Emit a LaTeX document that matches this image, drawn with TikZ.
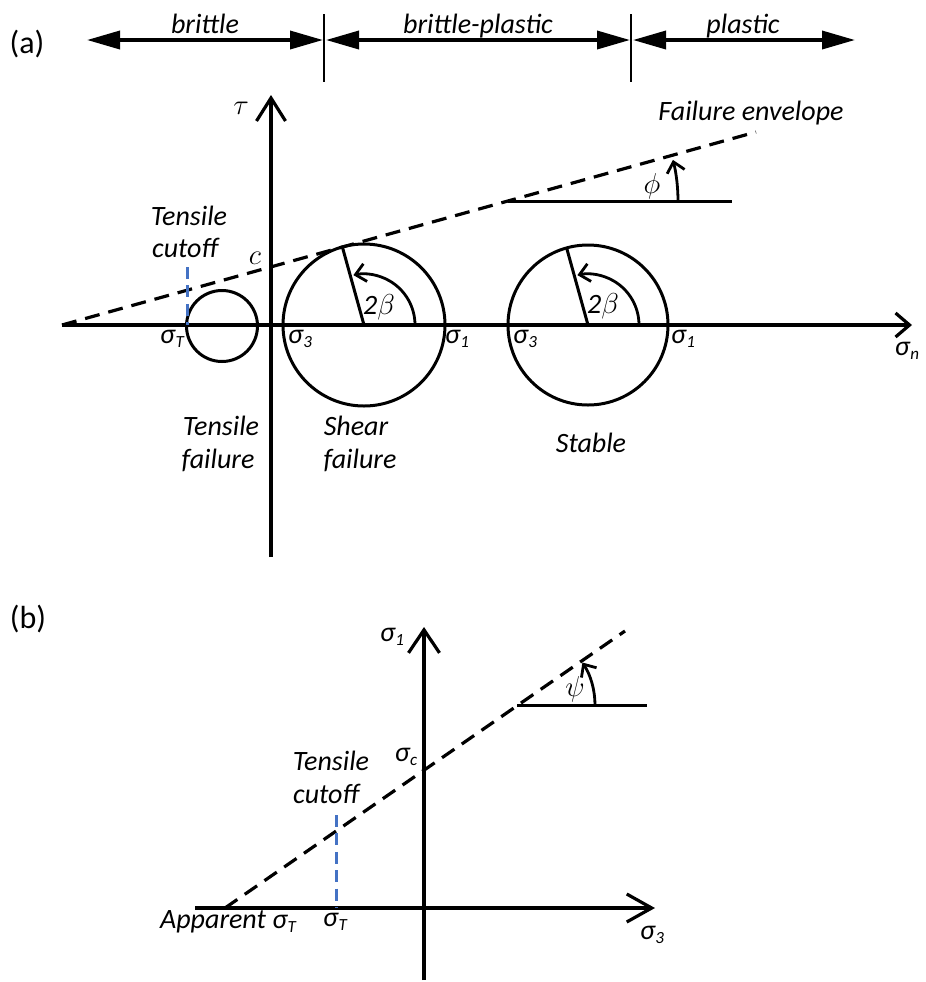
\documentclass[tikz,border=0pt]{standalone}
\usepackage{fontspec}
\setmainfont{Carlito}
\usetikzlibrary{arrows.meta,calc}
\definecolor{cutblue}{HTML}{4472C4}
\newcommand{\sgm}[1]{σ\kern0.2pt\raisebox{-0.12em}{\fontsize{8.5}{9}\selectfont #1}}
\begin{document}
\begin{tikzpicture}[x=0.5pt,y=-0.5pt,
  lbl/.style={font=\fontsize{14}{16}\selectfont\itshape, inner sep=0pt},
  ulbl/.style={font=\fontsize{16}{18}\selectfont, inner sep=0pt},
  ln/.style={line width=1.5pt},
  axisln/.style={line width=1.6pt},
  env/.style={line width=1.6pt, dash pattern=on 7.5pt off 4.5pt},
  cut/.style={line width=1.5pt, cutblue, dash pattern=on 6pt off 3.2pt},
  toparr/.style={line width=1.8pt, {Triangle[length=16.5pt,width=9pt]}-{Triangle[length=16.5pt,width=9pt]}},
  angarr/.style={line width=1.4pt, -{Straight Barb[length=5pt,width=9pt]}},
]
\useasboundingbox (0,0) rectangle (926,982);

% ---------- panel (a) : top regimes ----------
\node[ulbl] (la) at (27,44) {(a)};
\coordinate (s1t) at (324,14); \coordinate (s1b) at (324,82);
\coordinate (s2t) at (631,14); \coordinate (s2b) at (631,82);
\draw[line width=1pt] (s1t) -- (s1b);
\draw[line width=1pt] (s2t) -- (s2b);
\coordinate (a1l) at (87,40);  \coordinate (a1r) at (323,40);
\coordinate (a2l) at (326,40); \coordinate (a2r) at (630,40);
\coordinate (a3l) at (633,40); \coordinate (a3r) at (855,40);
\draw[toparr] (a1l) -- (a1r);
\draw[toparr] (a2l) -- (a2r);
\draw[toparr] (a3l) -- (a3r);
\node[lbl, anchor=base] (tb)  at (205,33) {brittle};
\node[lbl, anchor=base] (tbp) at (478,33) {brittle-plastic};
\node[lbl, anchor=base] (tp)  at (743,33) {plastic};

% ---------- panel (a) : Mohr diagram ----------
\coordinate (tauB) at (271,557); \coordinate (tauT) at (271,95);
\draw[axisln, -{Straight Barb[length=11.5pt,width=14.5pt]}] (tauB) -- (tauT);
\coordinate (snL) at (62,325); \coordinate (snR) at (912,325);
\draw[axisln, -{Straight Barb[length=7pt,width=12pt]}] (snL) -- (snR);
\coordinate (envE) at (756,132);
\draw[env] (snL) -- (envE);
\coordinate (phiO) at (508,201); \coordinate (phiE) at (732,201);
\draw[ln] (phiO) -- (phiE);
\draw[angarr] ($(phiO)+(170,0)$) arc[start angle=0, end angle=-14, radius=170];

% circles
\coordinate (C0) at (222,326);
\coordinate (C1) at (364,325);
\coordinate (C2) at (588,325);
\draw[ln] (C0) circle[radius=35.5];
\draw[ln] (C1) circle[radius=81];
\draw[ln] (C2) circle[radius=80];
\draw[ln] (C1) -- ++(-105.5:81);
\draw[ln] (C2) -- ++(-105.5:80);
\draw[angarr] ($(C1)+(51,0)$) arc[start angle=0, end angle=-102, radius=51];
\draw[angarr] ($(C2)+(51,0)$) arc[start angle=0, end angle=-102, radius=51];

% tensile cutoff
\coordinate (cutT) at (187,267); \coordinate (cutB) at (187,325);
\draw[cut] (cutT) -- (cutB);

% labels (a)
\node[lbl] (ltau) at (241,108) {$\tau$};
\node[lbl] (lc)   at (255,258) {$c$};
\node[lbl] (lphi) at (652,186) {$\phi$};
\node[lbl] (b1)   at (379,307) {2$\beta$};
\node[lbl] (b2)   at (603,306) {2$\beta$};
\node[lbl, anchor=base] (fe) at (751,120) {Failure envelope};
\node[lbl, anchor=base] (tc1) at (189,225) {Tensile};
\node[lbl, anchor=base] (tc2) at (185,257) {cutoff};
\node[lbl] (sT)  at (172,339) {\sgm{T}};
\node[lbl] (s31) at (300,339) {\sgm{3}};
\node[lbl] (s11) at (457,339) {\sgm{1}};
\node[lbl] (s32) at (525,339) {\sgm{3}};
\node[lbl] (s12) at (683,339) {\sgm{1}};
\node[lbl] (sn)  at (907,351) {\sgm{n}};
\node[lbl, anchor=base] (tf1) at (221,435) {Tensile};
\node[lbl, anchor=base] (tf2) at (218,468) {failure};
\node[lbl, anchor=base] (sf1) at (356,435) {Shear};
\node[lbl, anchor=base] (sf2) at (360,468) {failure};
\node[lbl, anchor=base] (st)  at (591,452) {Stable};

% ---------- panel (b) ----------
\node[ulbl] (lb) at (28,619) {(b)};
\coordinate (s1B) at (424,980); \coordinate (s1T) at (424,627);
\draw[axisln, -{Straight Barb[length=11.5pt,width=15.5pt]}] (s1B) -- (s1T);
\coordinate (s3L) at (195,908); \coordinate (s3R) at (655,908);
\draw[axisln, -{Straight Barb[length=12.5pt,width=14pt]}] (s3L) -- (s3R);
\coordinate (benvS) at (225,908); \coordinate (benvE) at (625,631);
\draw[env] (benvS) -- (benvE);
\coordinate (psiO) at (517,705); \coordinate (psiE) at (647,705);
\draw[ln] (psiO) -- (psiE);
\draw[angarr] ($(psiO)+(78,0)$) arc[start angle=0, end angle=-33, radius=78];
\coordinate (bcutT) at (336,815); \coordinate (bcutB) at (336,908);
\draw[cut] (bcutT) -- (bcutB);

\node[lbl] (bs1)  at (392,637) {\sgm{1}};
\node[lbl] (bsc)  at (406,757) {\sgm{c}};
\node[lbl] (bpsi) at (575,689) {$\psi$};
\node[lbl, anchor=base] (btc1) at (331,770) {Tensile};
\node[lbl, anchor=base] (btc2) at (326,803) {cutoff};
\node[lbl] (bap) at (228,922) {Apparent \sgm{T}};
\node[lbl] (bsT) at (335,922) {\sgm{T}};
\node[lbl] (bs3) at (652,935) {\sgm{3}};
\end{tikzpicture}
\end{document}
